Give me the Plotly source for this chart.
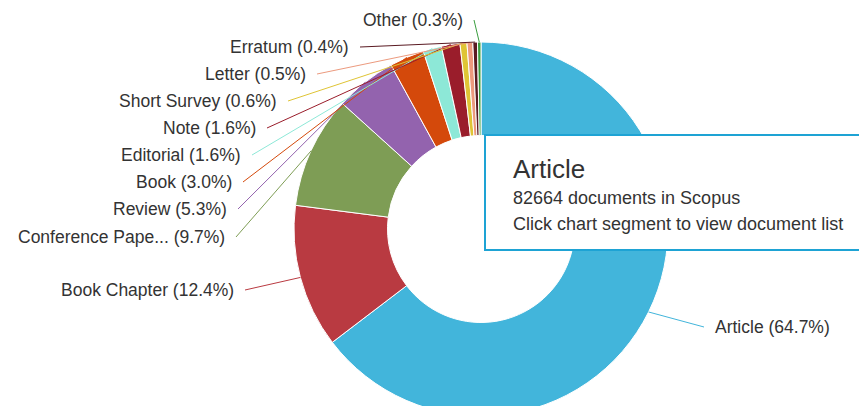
import math
import plotly.graph_objects as go

# document types, clockwise from 12 o'clock
doc_types = ['Article', 'Book Chapter', 'Conference Pape...', 'Review', 'Book', 'Editorial',
             'Note', 'Short Survey', 'Letter', 'Erratum', 'Other']
doc_counts = [82664, 15843, 12393, 6772, 3833, 2044, 2044, 767, 639, 511, 383]
doc_pcts = [64.7, 12.4, 9.7, 5.3, 3.0, 1.6, 1.6, 0.6, 0.5, 0.4, 0.3]
colors = ['#42b5db', '#b93a41', '#7e9d55', '#9363ae', '#d4490b', '#8de8d7',
          '#9a1d2b', '#dfc435', '#ec9a7e', '#5a1a22', '#3a9e3f']

# figure is a bit taller than the 406px window so the ring runs off the bottom
W, H = 859, 418
cx, cy, R = 481, 229, 187

# label anchor (pixels): (x where the line starts, y), side of the text
label_pos = {
    'Article': (704, 327, 'left'),
    'Book Chapter': (245, 290, 'right'),
    'Conference Pape...': (236, 237, 'right'),
    'Review': (238, 209, 'right'),
    'Book': (243, 182, 'right'),
    'Editorial': (252, 155, 'right'),
    'Note': (267, 128, 'right'),
    'Short Survey': (288, 101, 'right'),
    'Letter': (317, 74, 'right'),
    'Erratum': (360, 47, 'right'),
    'Other': (474, 20, 'right'),
}

fig = go.Figure(go.Pie(
    labels=doc_types, values=doc_counts, hole=0.5, sort=False,
    direction='clockwise', rotation=0, textinfo='none', hoverinfo='none',
    marker=dict(colors=colors, line=dict(color='white', width=1)),
    domain=dict(x=[(cx - R) / W, (cx + R) / W], y=[(H - cy - R) / H, (H - cy + R) / H]),
    showlegend=False,
))

total = sum(doc_counts)
cum = 0
annotations = []
for name, cnt, pct, col in zip(doc_types, doc_counts, doc_pcts, colors):
    mid = (cum + cnt / 2) / total * 2 * math.pi
    cum += cnt
    tx = cx + R * math.sin(mid)
    ty = cy - R * math.cos(mid)
    lx, ly, side = label_pos[name]
    annotations.append(dict(
        x=tx / W, y=1 - ty / H, xref='paper', yref='paper',
        ax=lx - tx, ay=ly - ty, axref='pixel', ayref='pixel',
        text=f'{name} ({pct:.1f}%)', showarrow=True, arrowhead=0,
        arrowwidth=1, arrowcolor=col, xanchor=side, yanchor='middle',
        borderpad=10, font=dict(size=17.5, color='#333333'),
    ))

# hover tooltip for Article
tip_lines = [('Article', 26, 169), ('82664 documents in Scopus', 18, 198),
             ('Click chart segment to view document list', 18, 224)]
for txt, size, y in tip_lines:
    annotations.append(dict(
        x=511 / W, y=1 - y / H, xref='paper', yref='paper', text=txt,
        showarrow=False, xanchor='left', yanchor='middle',
        font=dict(size=size, color='#333333'),
    ))

fig.update_layout(
    width=W, height=H, margin=dict(l=0, r=0, t=0, b=0),
    paper_bgcolor='white', plot_bgcolor='white',
    font=dict(family='Liberation Sans, Arial, sans-serif'),
    annotations=annotations,
    shapes=[dict(type='rect', xref='paper', yref='paper',
                 x0=485 / W, x1=1.02, y0=1 - 250 / H, y1=1 - 135 / H,
                 line=dict(color='#1ea3d4', width=2), fillcolor='white', layer='above')],
)

fig.write_html("out.html", config={'displayModeBar': False}, post_script=(
    "document.body.style.margin='0';"
    "document.body.style.overflow='hidden';"
    "document.documentElement.style.overflow='hidden';"))
